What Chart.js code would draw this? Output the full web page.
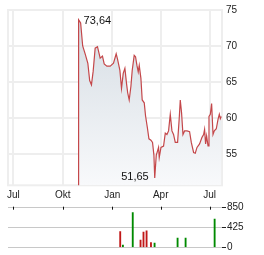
<!DOCTYPE html>
<html><head><meta charset="utf-8">
<script src="https://cdn.jsdelivr.net/npm/chart.js@4/dist/chart.umd.min.js"></script>
<style>
html,body{margin:0;padding:0;background:#fff;width:264px;height:255px;overflow:hidden}
canvas{position:absolute;left:0}
#c1{top:0}
#c2{top:200px}
</style></head><body>
<canvas id="c1" width="264" height="205"></canvas>
<canvas id="c2" width="264" height="55"></canvas>
<script>
// Days counted from 1 Jul 2024
const tickDays = [0, 92, 184, 274, 365];
const tickLabels = ['Jul', 'Okt', 'Jan', 'Apr', 'Jul'];
const priceTicks = [55, 60, 65, 70, 75];
const volTicks = [0, 425, 850];

const priceDays = [121, 121.3, 125.1, 128.9, 133.5, 138.5, 141.9, 145.2, 148.4, 152.1, 156.4, 161.4, 165.7, 168.9, 173.9, 180.1, 186.2, 191.2, 193.6, 198.1, 201.1, 204.3, 207.4, 210.4, 212.6, 215.4, 218.6, 221.0, 224.7, 227.2, 229.8, 232.2, 234.1, 237.2, 239.6, 243.4, 245.8, 249.5, 252.1, 255.8, 258.8, 261.4, 262.9, 265.7, 270.0, 271.3, 274.5, 279.3, 282.5, 285.6, 288.6, 291.8, 294.9, 297.9, 301.1, 305.4, 308.5, 310.4, 312.8, 315.4, 318.4, 322.9, 327.7, 330.9, 335.2, 338.3, 341.5, 346.3, 350.8, 353.8, 355.6, 357.5, 359.4, 362.0, 363.8, 366.3, 368.7, 371.3, 373.7, 377.4, 380.6, 383.0, 384.9, 386.7];
const prices = [50, 73.64, 73.2, 70.0, 68.9, 67.6, 65.2, 64.6, 66.5, 69.7, 69.9, 68.3, 68.6, 67.5, 67.2, 67.2, 67.6, 68.9, 68.2, 66.6, 64.1, 66.2, 66.9, 64.8, 63.5, 62.5, 64.4, 66.6, 68.7, 68.5, 67.3, 66.4, 67.3, 65.5, 62.5, 62.1, 60.3, 58.5, 57.1, 56.9, 56.6, 54.8, 51.65, 54.8, 55.9, 54.5, 55.9, 56.1, 57.9, 57.7, 58.2, 60.5, 58.2, 57.7, 56.6, 56.6, 60.0, 62.5, 60.7, 57.7, 58.2, 58.2, 58.1, 56.6, 55.2, 55.1, 55.9, 56.4, 57.3, 57.7, 58.4, 56.4, 57.5, 56.1, 60.2, 60.5, 62.0, 57.7, 58.2, 58.5, 59.8, 60.5, 59.9, 60.2];

const volDays = [198.7, 203.7, 222, 236.5, 242, 247.7, 255.9, 262.6, 305.4, 320.3, 374.3];
const volumes = [335, 50, 743, 157, 328, 356, 99, 92, 200, 200, 607];
const volUp = [false, true, true, false, false, false, false, true, true, true, true];

const FONT = {family: 'Liberation Sans, Arial, sans-serif', size: 10};
const X_MIN = -10, X_MAX = 388;

function fitY(s){ s.width = 42; }

const boxPlugin = {
  id: 'box',
  beforeDatasetsDraw(chart){
    const a = chart.chartArea, c = chart.ctx;
    c.save(); c.strokeStyle = '#eeeeee'; c.lineWidth = 2;
    c.strokeRect(a.left, a.top, a.right - a.left, a.bottom - a.top);
    c.restore();
  }
};
const extremaPlugin = {
  id: 'extrema',
  afterDatasetsDraw(chart){
    const xs = chart.scales.x, ys = chart.scales.y, c = chart.ctx;
    const real = prices.slice(1);
    const maxV = Math.max(...real), minV = Math.min(...real);
    const iMax = prices.indexOf(maxV), iMin = prices.indexOf(minV);
    c.save();
    c.font = '11px Liberation Sans, Arial, sans-serif';
    c.fillStyle = '#111';
    c.textBaseline = 'middle';
    c.textAlign = 'left';
    c.fillText(maxV.toFixed(2).replace('.', ','), xs.getPixelForValue(priceDays[iMax]) + 5, ys.getPixelForValue(maxV) + 1);
    c.textAlign = 'right';
    c.fillText(minV.toFixed(2).replace('.', ','), xs.getPixelForValue(priceDays[iMin]) - 6, ys.getPixelForValue(minV) - 1.5);
    c.restore();
  }
};

new Chart(document.getElementById('c1'), {
  type: 'line',
  data: {
    datasets: [{
      data: priceDays.map((d, i) => ({x: d, y: prices[i]})),
      borderColor: '#c4474a',
      borderWidth: 1.2,
      pointRadius: 0,
      tension: 0,
      fill: 'start',
      backgroundColor(ctx){
        const a = ctx.chart.chartArea;
        if (!a) return '#e0e5ea';
        const g = ctx.chart.ctx.createLinearGradient(0, a.top, 0, a.bottom);
        g.addColorStop(0, '#d3dbe2');
        g.addColorStop(1, '#f8f9fb');
        return g;
      }
    }]
  },
  options: {
    responsive: false, animation: false,
    layout: {padding: {left: 8, top: 6.5, right: 0, bottom: 0}},
    plugins: {legend: {display: false}, tooltip: {enabled: false}},
    scales: {
      x: {
        type: 'linear', min: X_MIN, max: X_MAX,
        afterBuildTicks(s){ s.ticks = tickDays.map(v => ({value: v})); },
        afterFit(s){ s.height = 19.7; },
        grid: {color: '#eeeeee', lineWidth: 2, drawTicks: false},
        border: {display: false},
        ticks: {font: FONT, color: '#222', padding: 4, maxRotation: 0, autoSkip: false,
          callback(v){ const i = tickDays.indexOf(v); return i >= 0 ? tickLabels[i] : ''; }}
      },
      y: {
        position: 'right', min: 50.64, max: 75,
        afterBuildTicks(s){ s.ticks = priceTicks.map(v => ({value: v})); },
        afterFit: fitY,
        grid: {color: '#eeeeee', lineWidth: 2, drawTicks: false},
        border: {display: false},
        ticks: {font: FONT, color: '#222', padding: 4}
      }
    }
  },
  plugins: [boxPlugin, extremaPlugin]
});

const xTickMarks = {
  id: 'xTickMarks',
  afterDraw(chart){
    const xs = chart.scales.x, a = chart.chartArea, c = chart.ctx;
    c.save(); c.strokeStyle = '#111'; c.lineWidth = 1;
    tickDays.forEach(d => {
      const px = Math.round(xs.getPixelForValue(d)) + 0.5;
      c.beginPath(); c.moveTo(px, a.top - 1); c.lineTo(px, a.top + 2); c.stroke();
    });
    c.restore();
  }
};

new Chart(document.getElementById('c2'), {
  type: 'bar',
  data: {
    datasets: [{
      data: volDays.map((d, i) => ({x: d, y: volumes[i]})),
      backgroundColor: volUp.map(u => u ? '#008a00' : '#c01818'),
      barThickness: 1.2
    }]
  },
  options: {
    responsive: false, animation: false,
    layout: {padding: {left: 8, top: 7.7, right: 0, bottom: 7.7}},
    plugins: {legend: {display: false}, tooltip: {enabled: false}},
    scales: {
      x: {type: 'linear', min: X_MIN, max: X_MAX, display: false, offset: false},
      y: {
        position: 'right', min: 0, max: 850,
        afterBuildTicks(s){ s.ticks = volTicks.map(v => ({value: v})); },
        afterFit: fitY,
        grid: {color: '#c8c8c8', lineWidth: 1, drawTicks: true, tickLength: 4, tickColor: '#222'},
        border: {display: false},
        ticks: {font: FONT, color: '#222', padding: 1}
      }
    }
  },
  plugins: [xTickMarks]
});
</script>
</body></html>
